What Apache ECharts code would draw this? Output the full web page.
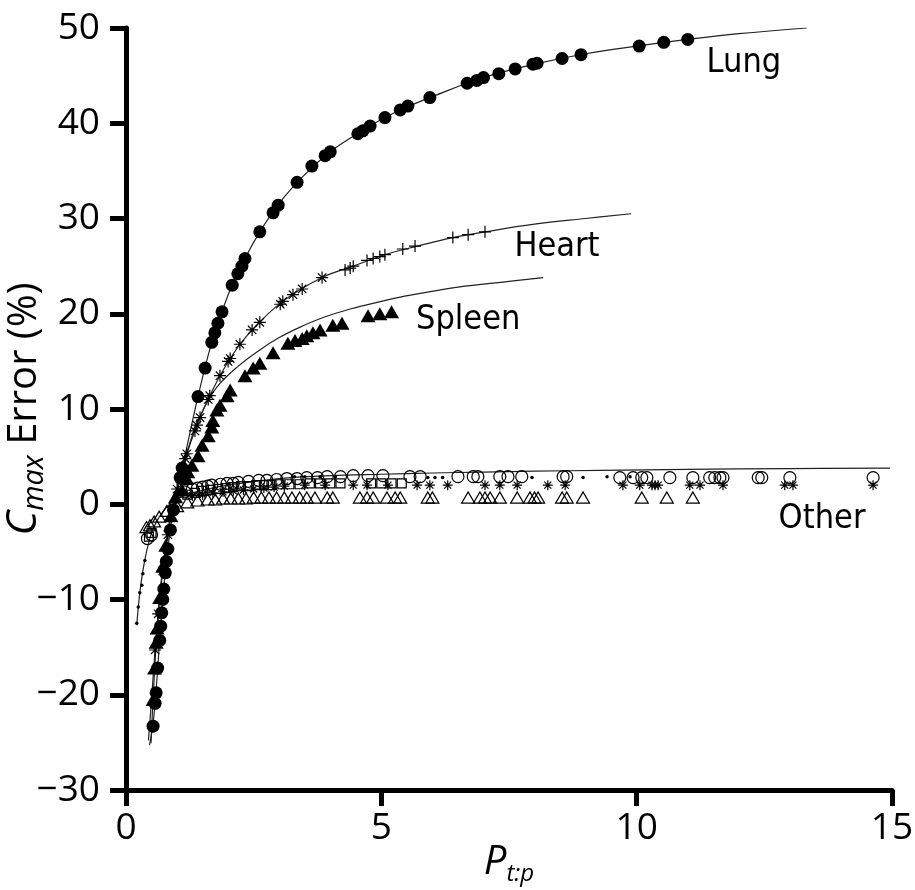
<!DOCTYPE html>
<html>
<head>
<meta charset="utf-8">
<script src="https://cdn.jsdelivr.net/npm/echarts@6/dist/echarts.min.js"></script>
<style>
  html, body { margin: 0; padding: 0; background: #fff; }
  #main { width: 915px; height: 890px; }
</style>
</head>
<body>
<div id="main"></div>
<script>
// axis ticks
const xTicks = [0, 5, 10, 15]
const yTicks = [-30, -20, -10, 0, 10, 20, 30, 40, 50]

// fitted curves
const lungCurveX = [0.46, 0.53, 0.59, 0.65, 0.72, 0.8, 0.9, 1.0, 1.2, 1.41, 1.68, 2.0, 2.33, 2.62, 3.0, 3.5, 4.0, 4.5, 5.0, 5.5, 6.0, 7.0, 8.0, 9.0, 10.0, 11.0, 12.0, 13.33]
const lungCurveY = [-25.3, -23.0, -19.5, -15.0, -10.0, -5.5, -1.5, 1.2, 6.2, 11.3, 17.0, 22.0, 25.8, 28.6, 31.6, 34.6, 37.0, 38.8, 40.4, 41.7, 42.8, 44.8, 46.2, 47.3, 48.1, 48.8, 49.4, 50.0]

const heartCurveX = [0.44, 0.5, 0.56, 0.63, 0.72, 0.82, 0.92, 1.0, 1.16, 1.39, 1.64, 2.04, 2.47, 3.07, 3.84, 4.45, 5.07, 5.7, 6.4, 7.03, 8.0, 9.0, 9.89]
const heartCurveY = [-24.8, -20.5, -16.0, -11.5, -7.0, -3.2, -0.3, 1.6, 4.8, 8.3, 11.4, 15.3, 18.3, 21.3, 23.8, 25.0, 26.2, 27.1, 28.0, 28.6, 29.4, 30.0, 30.5]

const spleenCurveX = [0.49, 0.52, 0.56, 0.61, 0.68, 0.77, 0.88, 1.0, 1.12, 1.31, 1.5, 1.78, 2.2, 2.62, 3.0, 3.41, 3.86, 4.39, 5.0, 5.37, 6.5, 7.5, 8.17]
const spleenCurveY = [-25.1, -21.5, -17.5, -13.0, -8.5, -4.5, -1.0, 1.5, 3.9, 7.4, 9.8, 12.3, 14.5, 16.2, 17.5, 18.6, 19.6, 20.5, 21.3, 21.75, 22.8, 23.4, 23.8]

const otherCurveX = [0.21, 0.27, 0.33, 0.41, 0.5, 0.6, 0.75, 0.92, 1.2, 1.6, 2.0, 3.0, 4.0, 5.0, 6.0, 7.0, 8.0, 9.3, 11.0, 13.0, 14.96]
const otherCurveY = [-12.7, -9.3, -7.0, -4.8, -3.0, -1.8, -0.6, 0.3, 1.0, 1.6, 2.0, 2.7, 3.0, 3.15, 3.28, 3.38, 3.47, 3.56, 3.66, 3.74, 3.8]

// measured points
const lungX = [0.53, 0.57, 0.59, 0.62, 0.66, 0.68, 0.7, 0.72, 0.74, 0.77, 0.79, 0.82, 0.87, 0.93, 1.06, 1.1, 1.41, 1.55, 1.68, 1.74, 1.8, 1.88, 2.08, 2.19, 2.27, 2.33, 2.62, 2.88, 2.98, 3.35, 3.64, 3.9, 4.0, 4.54, 4.64, 4.78, 5.07, 5.37, 5.52, 5.95, 6.68, 6.87, 7.0, 7.3, 7.62, 7.97, 8.05, 8.54, 8.91, 10.05, 10.53, 11.0]
const lungY = [-23.3, -20.9, -19.8, -17.2, -14.3, -12.8, -11.4, -10.0, -8.9, -7.2, -6.0, -4.7, -2.7, -0.6, 2.8, 3.8, 11.3, 14.3, 17.0, 18.0, 19.0, 20.2, 23.0, 24.2, 25.0, 25.8, 28.6, 30.6, 31.4, 33.8, 35.5, 36.6, 37.0, 38.9, 39.2, 39.7, 40.6, 41.4, 41.8, 42.7, 44.2, 44.5, 44.8, 45.2, 45.7, 46.2, 46.3, 46.8, 47.2, 48.1, 48.5, 48.8]

const heartX = [0.57, 0.63, 0.72, 0.82, 0.92, 1.0, 1.1, 1.16, 1.19, 1.35, 1.39, 1.45, 1.61, 1.64, 1.84, 2.0, 2.04, 2.23, 2.47, 2.62, 3.02, 3.07, 3.27, 3.45, 3.84, 4.29, 4.39, 4.45, 4.72, 4.84, 4.97, 5.07, 5.42, 5.66, 6.4, 6.7, 7.03]
const heartY = [-15.3, -11.5, -7.0, -3.2, -0.3, 1.6, 3.6, 4.8, 5.3, 7.7, 8.3, 9.1, 11.0, 11.4, 13.5, 15.0, 15.3, 16.8, 18.3, 19.1, 21.0, 21.3, 22.0, 22.6, 23.8, 24.6, 24.8, 25.0, 25.6, 25.8, 26.0, 26.2, 26.8, 27.1, 28.0, 28.3, 28.6]

const spleenX = [0.53, 0.56, 0.59, 0.61, 0.66, 0.72, 0.78, 0.88, 0.97, 1.1, 1.19, 1.21, 1.29, 1.41, 1.49, 1.61, 1.68, 1.7, 1.78, 1.84, 1.98, 2.04, 2.33, 2.49, 2.62, 2.88, 3.17, 3.31, 3.45, 3.54, 3.66, 3.8, 4.05, 4.23, 4.74, 4.97, 5.2]
const spleenY = [-20.5, -17.2, -14.5, -13.0, -9.8, -6.5, -4.3, -1.2, 0.8, 1.5, 2.7, 3.4, 4.1, 5.1, 6.2, 7.2, 8.1, 8.8, 9.9, 10.4, 11.4, 12.0, 13.5, 14.3, 14.8, 15.9, 16.9, 17.2, 17.4, 17.7, 18.0, 18.3, 18.8, 19.0, 19.8, 20.0, 20.2]

const otherCircleX = [0.42, 0.5, 1.15, 1.3, 1.4, 1.5, 1.6, 1.68, 1.85, 1.98, 2.1, 2.2, 2.4, 2.6, 2.76, 2.95, 3.15, 3.35, 3.54, 3.75, 3.94, 4.2, 4.45, 4.74, 5.03, 5.56, 5.76, 6.5, 6.8, 6.89, 7.32, 7.48, 7.75, 8.56, 8.63, 9.67, 9.93, 10.1, 10.2, 10.65, 11.1, 11.43, 11.53, 11.63, 11.69, 12.38, 12.45, 13.0, 14.63]
const otherCircleY = [-3.6, -3.2, 1.3, 1.6, 1.7, 1.8, 1.9, 2.0, 2.1, 2.2, 2.2, 2.3, 2.4, 2.5, 2.5, 2.6, 2.7, 2.7, 2.8, 2.8, 2.9, 2.9, 3.0, 3.0, 3.0, 2.9, 2.9, 2.9, 2.9, 2.9, 2.9, 2.9, 2.9, 2.9, 2.9, 2.8, 2.8, 2.8, 2.8, 2.8, 2.8, 2.8, 2.8, 2.8, 2.8, 2.8, 2.8, 2.8, 2.8]

const otherStarX = [1.3, 1.5, 1.7, 1.9, 2.1, 2.3, 2.5, 2.7, 2.9, 3.1, 3.5, 3.9, 4.45, 4.72, 5.13, 5.7, 5.95, 6.3, 7.03, 7.32, 7.66, 8.26, 8.6, 9.73, 10.06, 10.3, 10.36, 10.42, 11.04, 11.24, 11.69, 12.9, 13.06, 14.63]
const otherStarY = [0.9, 1.0, 1.2, 1.3, 1.4, 1.5, 1.6, 1.7, 1.8, 1.9, 2.0, 2.0, 2.0, 2.0, 2.0, 2.0, 2.0, 2.0, 2.0, 2.0, 2.0, 2.0, 2.0, 2.0, 2.0, 2.0, 2.0, 2.0, 2.0, 2.0, 2.0, 2.0, 2.0, 2.0]

const otherSquareX = [0.45, 0.5, 1.2, 1.35, 1.5, 1.65, 1.8, 1.95, 2.1, 2.25, 2.4, 2.55, 2.7, 2.85, 3.0, 3.2, 3.4, 3.6, 3.8, 4.0, 4.2, 4.8, 5.0, 5.2, 5.4]
const otherSquareY = [-3.4, -3.0, 1.0, 1.2, 1.4, 1.5, 1.6, 1.7, 1.8, 1.9, 1.9, 2.0, 2.0, 2.0, 2.1, 2.1, 2.1, 2.2, 2.2, 2.2, 2.2, 2.2, 2.2, 2.2, 2.2]

const otherTriX = [0.4, 0.47, 0.55, 0.65, 0.8, 1.0, 1.2, 1.4, 1.6, 1.75, 1.9, 2.05, 2.2, 2.35, 2.5, 2.65, 2.8, 2.95, 3.1, 3.25, 3.4, 3.54, 3.7, 3.94, 4.05, 4.58, 4.72, 4.84, 5.11, 5.27, 5.37, 5.91, 6.0, 6.7, 6.93, 7.03, 7.13, 7.32, 7.66, 7.91, 8.0, 8.07, 8.54, 8.63, 8.95, 10.1, 10.59, 11.1]
const otherTriY = [-2.4, -2.2, -1.8, -1.3, -0.7, -0.2, 0.2, 0.4, 0.5, 0.5, 0.6, 0.6, 0.6, 0.6, 0.7, 0.7, 0.7, 0.7, 0.7, 0.7, 0.7, 0.7, 0.7, 0.7, 0.7, 0.7, 0.7, 0.7, 0.7, 0.7, 0.7, 0.7, 0.7, 0.7, 0.7, 0.7, 0.7, 0.7, 0.7, 0.7, 0.7, 0.7, 0.7, 0.7, 0.7, 0.7, 0.7, 0.7]

const otherDotX = [0.21, 0.24, 0.27, 0.31, 0.33, 0.37, 3.3, 3.5, 3.8, 4.1, 5.91, 6.05, 6.2, 7.95, 8.95, 9.42, 9.87]
const otherDotY = [-12.5, -10.8, -9.3, -8.5, -7.3, -5.9, 2.9, 2.9, 2.9, 2.9, 2.8, 2.8, 2.8, 2.8, 2.8, 2.9, 2.9]

// in-plot labels
const labelNames = ['Lung', 'Heart', 'Spleen', 'Other']
const labelX = [12.1, 8.44, 6.7, 13.63]
const labelY = [46.3, 27.0, 19.3, -1.6]

const zip = (xs, ys) => xs.map((x, i) => [x, ys[i]])

const plusPath = 'path://M5,0L5,10M0,5L10,5'
const starPath = 'path://M5,0L5,10M0,5L10,5M1.5,1.5L8.5,8.5M8.5,1.5L1.5,8.5'

const axisFont = '"Open Sans", "Noto Sans", sans-serif'
const labelFont = '"Liberation Sans Narrow", "DejaVu Sans Condensed", "Liberation Sans", sans-serif'

function curve(name, xs, ys) {
    return {
        type: 'line',
        name: name,
        data: zip(xs, ys),
        symbol: 'none',
        smooth: 0.4,
        lineStyle: { color: '#222', width: 1.2 },
        z: 1,
        silent: true
    }
}

function points(name, xs, ys, symbol, size, filled) {
    return {
        type: 'scatter',
        name: name,
        data: zip(xs, ys),
        symbol: symbol,
        symbolSize: size,
        itemStyle: filled
            ? { color: '#000', opacity: 1 }
            : { color: 'rgba(0,0,0,0)', borderColor: '#000', borderWidth: 1.2, opacity: 1 },
        z: 3
    }
}

const option = {
    animation: false,
    backgroundColor: '#fff',
    grid: { left: 126, right: 23, top: 28, bottom: 100, outerBoundsMode: 'none' },
    xAxis: {
        type: 'value',
        min: xTicks[0],
        max: xTicks[xTicks.length - 1],
        interval: 5,
        splitLine: { show: false },
        axisLine: { show: true, onZero: false, lineStyle: { color: '#000', width: 5 } },
        axisTick: { show: true, length: 16, lineStyle: { color: '#000', width: 5 } },
        axisLabel: { color: '#000', fontSize: 37, fontFamily: axisFont, margin: 20 },
        name: '{p|P}{s|t:p}',
        nameLocation: 'middle',
        nameGap: 50,
        nameMoveOverlap: false,
        nameTextStyle: {
            rich: {
                p: { fontSize: 40, fontStyle: 'italic', fontFamily: axisFont, color: '#000' },
                s: { fontSize: 24, fontStyle: 'italic', fontFamily: axisFont, color: '#000', padding: [22, 0, 0, 0] }
            }
        }
    },
    yAxis: {
        type: 'value',
        min: yTicks[0],
        max: yTicks[yTicks.length - 1],
        interval: 10,
        splitLine: { show: false },
        axisLine: { show: true, onZero: false, lineStyle: { color: '#000', width: 5 } },
        axisTick: { show: true, length: 16, lineStyle: { color: '#000', width: 5 } },
        axisLabel: {
            color: '#000', fontSize: 37, fontFamily: axisFont, margin: 26,
            formatter: v => String(v).replace('-', '\u2212')
        },
        name: '{c|C}{s|max}{e| Error (%)}',
        nameLocation: 'middle',
        nameRotate: 90,
        nameGap: 77,
        nameMoveOverlap: false,
        nameTextStyle: {
            rich: {
                c: { fontSize: 42, fontStyle: 'italic', fontFamily: axisFont, color: '#000' },
                s: { fontSize: 29, fontStyle: 'italic', fontFamily: axisFont, color: '#000', padding: [20, 0, 0, 0] },
                e: { fontSize: 40, fontFamily: axisFont, color: '#000' }
            }
        }
    },
    series: [
        curve('Lung fit', lungCurveX, lungCurveY),
        curve('Heart fit', heartCurveX, heartCurveY),
        curve('Spleen fit', spleenCurveX, spleenCurveY),
        curve('Other fit', otherCurveX, otherCurveY),
        points('Other triangles', otherTriX, otherTriY, 'triangle', [13, 11], false),
        points('Other squares', otherSquareX, otherSquareY, 'rect', 9, false),
        points('Other circles', otherCircleX, otherCircleY, 'circle', 12, false),
        points('Other stars', otherStarX, otherStarY, starPath, 10, false),
        points('Other dots', otherDotX, otherDotY, 'circle', 3.5, true),
        points('Spleen', spleenX, spleenY, 'triangle', [15, 13], true),
        {
            ...points('Heart', heartX, heartY, plusPath, 12, false),
            symbol: (v) => v[0] > 4.2 ? plusPath : starPath
        },
        points('Lung', lungX, lungY, 'circle', 13, true),
        {
            type: 'scatter',
            name: 'labels',
            symbolSize: 0,
            silent: true,
            itemStyle: { opacity: 1 },
            data: labelNames.map((n, i) => ({ name: n, value: [labelX[i], labelY[i]] })),
            label: {
                show: true,
                position: 'inside',
                formatter: p => p.name,
                color: '#000',
                fontSize: 34,
                fontFamily: labelFont
            },
            z: 5
        }
    ]
}

const chart = echarts.init(document.getElementById('main'))
chart.setOption(option)
</script>
</body>
</html>
